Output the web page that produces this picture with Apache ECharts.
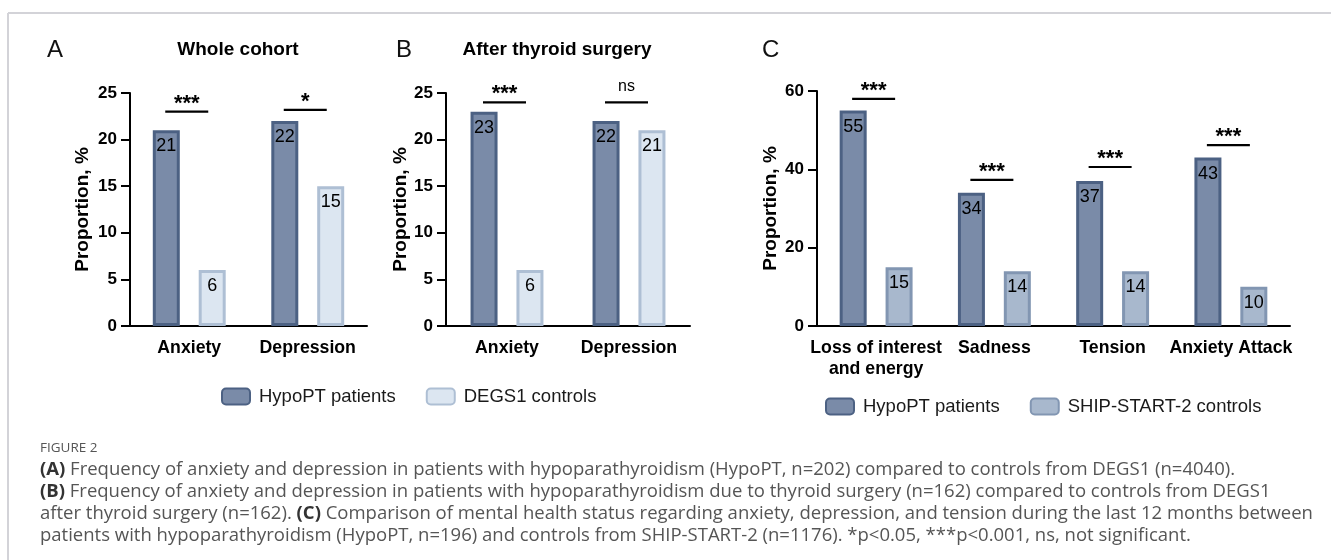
<!DOCTYPE html>
<html>
<head>
<meta charset="utf-8">
<script src="https://cdn.jsdelivr.net/npm/echarts@6/dist/echarts.min.js"></script>
<style>
  html, body { margin: 0; padding: 0; background: #fff; }
  #chart { width: 1331px; height: 560px; }
</style>
</head>
<body>
<div id="chart"></div>
<script>
  // panel A / B categories and values (%)
  const catsAB = ['Anxiety', 'Depression'];
  const hypoA = [21, 22];
  const degsA = [6, 15];
  const hypoB = [23, 22];
  const degsB = [6, 21];
  // panel C
  const catsC = ['Loss of interest\nand energy', 'Sadness', 'Tension', 'Anxiety Attack'];
  const hypoC = [55, 34, 37, 43];
  const shipC = [15, 14, 14, 10];
  // significance brackets: label + height in data units
  const sigA = ['***', '*'];
  const sigAY = [23, 23.2];
  const sigB = ['***', 'ns'];
  const sigBY = [24, 24];
  const sigC = ['***', '***', '***', '***'];
  const sigCY = [58, 37.3, 40.6, 46.2];

  const FONT = '"Liberation Sans", Arial, sans-serif';
  const CAP = '"Open Sans", sans-serif';
  const dark = { color: '#7a8ba8', borderColor: '#4c6183', borderWidth: 3 };
  const light = { color: '#dce6f1', borderColor: '#aebfd4', borderWidth: 3 };
  const mid = { color: '#a8b8cd', borderColor: '#8296b2', borderWidth: 3 };

  const chart = echarts.init(document.getElementById('chart'));

  const barLabel = {
    show: true,
    position: 'insideTop',
    distance: 7,
    color: '#000',
    fontSize: 18,
    fontFamily: FONT
  };

  function sigRender(labels) {
    return function (params, api) {
      const c = api.coord([api.value(0), api.value(1)]);
      const txt = labels[params.dataIndex];
      const isNs = txt === 'ns';
      return {
        type: 'group',
        children: [
          {
            type: 'line',
            shape: { x1: c[0] - 24, y1: c[1], x2: c[0] + 19, y2: c[1] },
            style: { stroke: '#000', lineWidth: 2.2 }
          },
          {
            type: 'text',
            style: {
              text: txt,
              x: c[0] - 2.5,
              y: c[1] + (isNs ? -8 : 3),
              align: 'center',
              verticalAlign: 'bottom',
              font: isNs ? '16px ' + FONT : 'bold 22px ' + FONT,
              fill: '#000'
            }
          }
        ]
      };
    };
  }

  function xAxis(idx, cats) {
    return {
      type: 'category',
      gridIndex: idx,
      data: cats,
      axisLine: { lineStyle: { color: '#000', width: 2 } },
      axisTick: { alignWithLabel: true, length: 8, lineStyle: { color: '#000', width: 2 } },
      axisLabel: {
        interval: 0,
        margin: 12,
        color: '#000',
        fontSize: 17.7,
        fontWeight: 'bold',
        fontFamily: FONT,
        lineHeight: 21
      }
    };
  }

  function yAxis(idx, max, interval, gap) {
    return {
      type: 'value',
      gridIndex: idx,
      min: 0,
      max: max,
      interval: interval,
      name: 'Proportion, %',
      nameLocation: 'middle',
      nameGap: gap,
      nameTextStyle: { color: '#000', fontSize: 19, fontWeight: 'bold', fontFamily: FONT },
      splitLine: { show: false },
      axisLine: { show: true, lineStyle: { color: '#000', width: 2 } },
      axisTick: { show: true, length: 9, lineStyle: { color: '#000', width: 2 } },
      axisLabel: { margin: 13, color: '#000', fontSize: 17, fontWeight: 'bold', fontFamily: FONT }
    };
  }

  function sigSeries(idx, labels, ys) {
    return {
      type: 'custom',
      name: 'sig' + idx,
      xAxisIndex: idx,
      yAxisIndex: idx,
      z: 5,
      silent: true,
      renderItem: sigRender(labels),
      encode: { x: 0, y: 1 },
      data: ys.map((v, i) => [i, v])
    };
  }

  function barSeries(name, idx, values, style) {
    return {
      type: 'bar',
      name: name,
      xAxisIndex: idx,
      yAxisIndex: idx,
      barWidth: 27,
      barGap: '70%',
      itemStyle: style,
      label: barLabel,
      data: values
    };
  }

  const legendText = { color: '#1a1a1a', fontSize: 18.5, fontFamily: FONT, padding: [0, 0, 0, 4] };

  function caption(y, text) {
    return {
      type: 'text',
      style: {
        x: 40, y: y, verticalAlign: 'middle',
        text: text,
        font: '18.5px ' + CAP, fill: '#555',
        rich: { b: { fontWeight: 'bold', fill: '#333', fontSize: 18.5, fontFamily: CAP } }
      }
    };
  }

  const option = {
    animation: false,
    backgroundColor: '#fff',
    grid: [
      { left: 130, top: 93, width: 237, height: 233 },
      { left: 446, top: 93, width: 244, height: 233 },
      { left: 817, top: 91, width: 473, height: 235 }
    ],
    xAxis: [xAxis(0, catsAB), xAxis(1, catsAB), xAxis(2, catsC)],
    yAxis: [yAxis(0, 25, 5, 38), yAxis(1, 25, 5, 30), yAxis(2, 60, 20, 37)],
    legend: [
      {
        left: 216,
        top: 382,
        itemWidth: 28,
        itemHeight: 16,
        itemGap: 30,
        textStyle: legendText,
        data: ['HypoPT patients', 'DEGS1 controls']
      },
      {
        left: 820,
        top: 392,
        itemWidth: 28,
        itemHeight: 16,
        itemGap: 30,
        textStyle: legendText,
        data: ['HypoPT patients', 'SHIP-START-2 controls']
      }
    ],
    series: [
      barSeries('HypoPT patients', 0, hypoA, dark),
      barSeries('DEGS1 controls', 0, degsA, light),
      barSeries('HypoPT patients', 1, hypoB, dark),
      barSeries('DEGS1 controls', 1, degsB, light),
      barSeries('HypoPT patients', 2, hypoC, dark),
      barSeries('SHIP-START-2 controls', 2, shipC, mid),
      sigSeries(0, sigA, sigAY),
      sigSeries(1, sigB, sigBY),
      sigSeries(2, sigC, sigCY)
    ],
    graphic: [
      // frame
      { type: 'line', shape: { x1: 8, y1: 13, x2: 1331, y2: 13 }, style: { stroke: '#d3d3d8', lineWidth: 2 } },
      { type: 'line', shape: { x1: 8, y1: 13, x2: 8, y2: 560 }, style: { stroke: '#d3d3d8', lineWidth: 2 } },
      // panel letters and titles
      { type: 'text', style: { text: 'A', x: 47, y: 50, verticalAlign: 'middle', font: '24px ' + FONT, fill: '#111' } },
      { type: 'text', style: { text: 'Whole cohort', x: 238, y: 50, align: 'center', verticalAlign: 'middle', font: 'bold 19px ' + FONT, fill: '#000' } },
      { type: 'text', style: { text: 'B', x: 396, y: 50, verticalAlign: 'middle', font: '24px ' + FONT, fill: '#111' } },
      { type: 'text', style: { text: 'After thyroid surgery', x: 557, y: 50, align: 'center', verticalAlign: 'middle', font: 'bold 19px ' + FONT, fill: '#000' } },
      { type: 'text', style: { text: 'C', x: 762, y: 50, verticalAlign: 'middle', font: '24px ' + FONT, fill: '#111' } },
      // caption
      { type: 'text', style: { text: 'FIGURE 2', x: 40, y: 448, verticalAlign: 'middle', font: '13.5px ' + CAP, fill: '#555' } },
      caption(470, '{b|(A)} Frequency of anxiety and depression in patients with hypoparathyroidism (HypoPT, n=202) compared to controls from DEGS1 (n=4040).'),
      caption(492, '{b|(B)} Frequency of anxiety and depression in patients with hypoparathyroidism due to thyroid surgery (n=162) compared to controls from DEGS1'),
      caption(514, 'after thyroid surgery (n=162). {b|(C)} Comparison of mental health status regarding anxiety, depression, and tension during the last 12 months between'),
      caption(536, 'patients with hypoparathyroidism (HypoPT, n=196) and controls from SHIP-START-2 (n=1176). *p<0.05, ***p<0.001, ns, not significant.')
    ]
  };

  chart.setOption(option);
</script>
</body>
</html>
